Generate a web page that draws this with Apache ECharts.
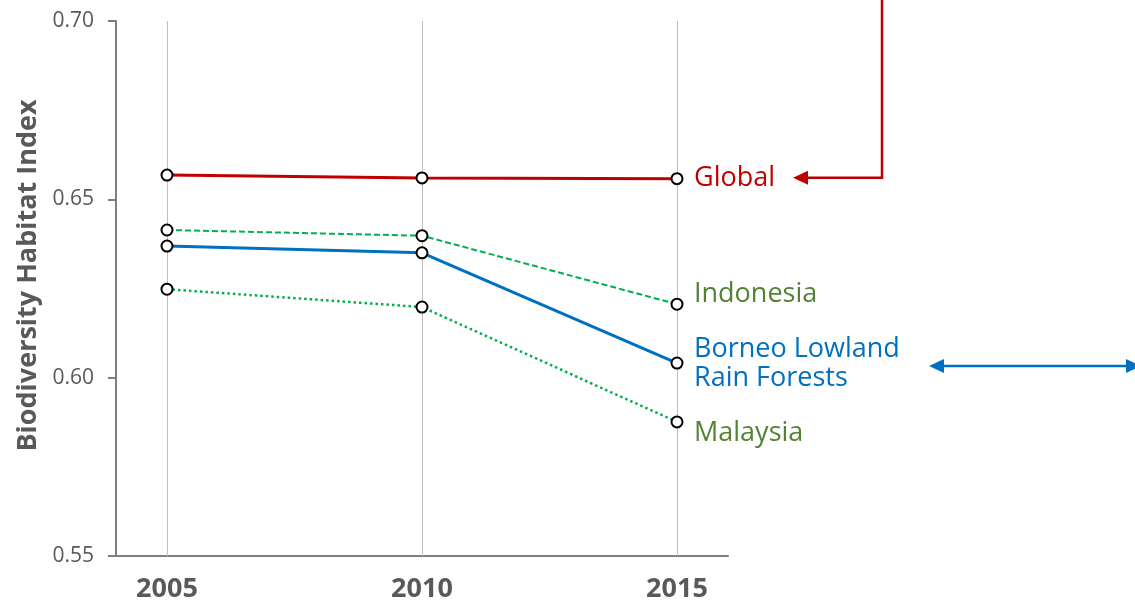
<!DOCTYPE html>
<html>
<head>
<meta charset="utf-8">
<script src="https://cdn.jsdelivr.net/npm/echarts@6/dist/echarts.min.js"></script>
<style>
  html, body { margin: 0; padding: 0; background: #fff; }
  #chart { width: 1135px; height: 606px; }
</style>
</head>
<body>
<div id="chart"></div>
<script>
const years = [2005, 2010, 2015];
const globalVals = [0.6568, 0.6560, 0.6558];
const indonesiaVals = [0.6414, 0.6398, 0.6206];
const borneoVals = [0.6369, 0.6350, 0.6041];
const malaysiaVals = [0.6248, 0.6198, 0.5876];

const FONT = 'Open Sans';
const toPairs = vals => vals.map((v, i) => [years[i], v]);

const marker = {
    color: '#fff',
    borderColor: '#000',
    borderWidth: 2
};

function makeSeries(name, vals, color, width, type, labelText, labelColor, offset) {
    return {
        name: name,
        type: 'line',
        data: toPairs(vals),
        symbol: 'circle',
        symbolSize: 11,
        showSymbol: true,
        itemStyle: marker,
        lineStyle: { color: color, width: width, type: type },
        z: 3,
        endLabel: {
            show: true,
            formatter: labelText,
            color: labelColor,
            fontFamily: FONT,
            fontSize: 27,
            lineHeight: 29,
            distance: 17,
            offset: offset
        }
    };
}

const myChart = echarts.init(document.getElementById('chart'));

const option = {
    backgroundColor: '#fff',
    animation: false,
    grid: { left: 116, right: 407, top: 21, bottom: 50 },
    xAxis: {
        type: 'value',
        min: 2004,
        max: 2016,
        axisLine: { show: true, lineStyle: { color: '#7f7f7f', width: 2 } },
        axisTick: { show: false },
        splitLine: { show: false },
        axisLabel: {
            customValues: years,
            formatter: v => String(v),
            margin: 20,
            color: '#595959',
            fontFamily: FONT,
            fontWeight: 'bold',
            fontSize: 27
        }
    },
    yAxis: {
        type: 'value',
        min: 0.55,
        max: 0.70,
        interval: 0.05,
        name: 'Biodiversity Habitat Index',
        nameLocation: 'middle',
        nameGap: 74,
        nameTextStyle: {
            color: '#595959',
            fontFamily: FONT,
            fontWeight: 'bold',
            fontSize: 27,
            padding: [0, 0, 0, 26]
        },
        axisLine: { show: true, lineStyle: { color: '#7f7f7f', width: 2 } },
        axisTick: { show: true, inside: false, length: 8, lineStyle: { color: '#7f7f7f', width: 2 } },
        splitLine: { show: false },
        axisLabel: {
            margin: 22,
            color: '#595959',
            fontFamily: FONT,
            fontSize: 21,
            formatter: v => v.toFixed(2)
        }
    },
    series: [
        Object.assign(makeSeries('Global', globalVals, '#c00000', 3, 'solid', 'Global', '#c00000', [0, 0]), {
            markLine: {
                silent: true,
                symbol: 'none',
                label: { show: false },
                lineStyle: { color: '#bfbfbf', width: 1, type: 'solid' },
                data: years.map(y => ({ xAxis: y })),
                z: 1
            }
        }),
        makeSeries('Indonesia', indonesiaVals, '#00b050', 2, [6, 3], 'Indonesia', '#548235', [0, -10]),
        makeSeries('Borneo', borneoVals, '#0070c0', 3, 'solid', 'Borneo Lowland\nRain Forests', '#0070c0', [0, 1]),
        makeSeries('Malaysia', malaysiaVals, '#00b050', 2.5, [2.5, 3], 'Malaysia', '#548235', [0, 11])
    ]
};

myChart.setOption(option);

// annotation arrows anchored to the series end points
const yG = myChart.convertToPixel({ gridIndex: 0 }, [2015, globalVals[2]])[1] - 1;
const yB = myChart.convertToPixel({ gridIndex: 0 }, [2015, borneoVals[2]])[1] + 3;

myChart.setOption({
    graphic: [
        {
            type: 'polyline',
            shape: { points: [[882, -2], [882, yG], [806, yG]] },
            style: { stroke: '#c00000', lineWidth: 2.5, fill: null }
        },
        {
            type: 'polygon',
            shape: { points: [[793, yG], [808, yG - 7], [808, yG + 7]] },
            style: { fill: '#c00000' }
        },
        {
            type: 'line',
            shape: { x1: 940, y1: yB, x2: 1128, y2: yB },
            style: { stroke: '#0070c0', lineWidth: 2.5 }
        },
        {
            type: 'polygon',
            shape: { points: [[929, yB], [944, yB - 7], [944, yB + 7]] },
            style: { fill: '#0070c0' }
        },
        {
            type: 'polygon',
            shape: { points: [[1141, yB], [1126, yB - 7], [1126, yB + 7]] },
            style: { fill: '#0070c0' }
        }
    ]
});
</script>
</body>
</html>
